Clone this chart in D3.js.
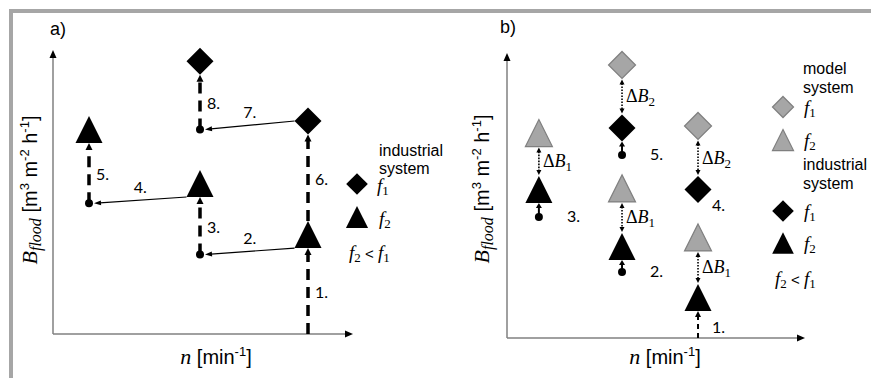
<!DOCTYPE html>
<html><head><meta charset="utf-8">
<script src="https://cdn.jsdelivr.net/npm/d3@7"></script>
<style>body{margin:0;background:#fff}svg{display:block}</style>
</head><body>
<svg id="c" width="871" height="378"></svg>
<script>
// ================= DATA (n and B_flood in arbitrary relative units, 0-100) =================
const panelLabels = ["a)", "b)"];
const xLabelParts = ["n", " [min", "-1", "]"];
const yLabelParts = ["B", "flood", " [m", "3", " m", "-2", " h", "-1", "]"];

// panel a) industrial system
const aF1 = [{n: 49, b: 96}, {n: 85, b: 75}];                 // diamonds
const aF2 = [{n: 12, b: 72}, {n: 49, b: 53}, {n: 85, b: 35}]; // triangles
const aDots = [{n: 12, b: 46}, {n: 49, b: 72}, {n: 49, b: 28}];
const aSteps = [
  {label: "1.", kind: "dash",  n0: 85, b0: 0,  s0: "axis", n1: 85, b1: 35, s1: "f2"},
  {label: "2.", kind: "solid", n0: 85, b0: 35, s0: "f2",   n1: 49, b1: 28, s1: "dot"},
  {label: "3.", kind: "dash",  n0: 49, b0: 28, s0: "dot",  n1: 49, b1: 53, s1: "f2"},
  {label: "4.", kind: "solid", n0: 49, b0: 53, s0: "f2",   n1: 12, b1: 46, s1: "dot"},
  {label: "5.", kind: "dash",  n0: 12, b0: 46, s0: "dot",  n1: 12, b1: 72, s1: "f2"},
  {label: "6.", kind: "dash",  n0: 85, b0: 35, s0: "f2",   n1: 85, b1: 75, s1: "f1"},
  {label: "7.", kind: "solid", n0: 85, b0: 75, s0: "f1",   n1: 49, b1: 72, s1: "dot"},
  {label: "8.", kind: "dash",  n0: 49, b0: 72, s0: "dot",  n1: 49, b1: 96, s1: "f1"}
];
const aLegendTitle = ["industrial", "system"];

// panel b) model vs industrial system
const bModelF1 = [{n: 38.6, b: 95.8}, {n: 64.1, b: 74.4}];
const bModelF2 = [{n: 10.7, b: 71.9}, {n: 38.6, b: 52.5}, {n: 64.1, b: 35.3}];
const bIndF1 = [{n: 38.6, b: 73.7}, {n: 64.1, b: 52.1}];
const bIndF2 = [{n: 10.7, b: 52.1}, {n: 38.6, b: 32.1}, {n: 64.1, b: 14.2}];
const bDots = [{n: 10.7, b: 42.5}, {n: 38.6, b: 64.2}, {n: 38.6, b: 23.2}];
const bDeltas = [
  {n: 10.7, hi: 71.9, hiS: "f2", lo: 52.1, loS: "f2", sub: "1"},
  {n: 38.6, hi: 95.8, hiS: "f1", lo: 73.7, loS: "f1", sub: "2"},
  {n: 38.6, hi: 52.5, hiS: "f2", lo: 32.1, loS: "f2", sub: "1"},
  {n: 64.1, hi: 74.4, hiS: "f1", lo: 52.1, loS: "f1", sub: "2"},
  {n: 64.1, hi: 35.3, hiS: "f2", lo: 14.2, loS: "f2", sub: "1"}
];
const bSteps = [
  {label: "1.", kind: "dash",  n: 64.1, b0: 0,    s0: "axis", b1: 14.2, s1: "f2"},
  {label: "2.", kind: "short", n: 38.6, b0: 23.2, s0: "dot",  b1: 32.1, s1: "f2"},
  {label: "3.", kind: "short", n: 10.7, b0: 42.5, s0: "dot",  b1: 52.1, s1: "f2"},
  {label: "4.", kind: "none",  n: 64.1, b0: 52.1, s0: "f1",   b1: 52.1, s1: "f1"},
  {label: "5.", kind: "short", n: 38.6, b0: 64.2, s0: "dot",  b1: 73.7, s1: "f1"}
];
const bLegendModel = ["model", "system"];
const bLegendInd = ["industrial", "system"];

// ================= DRAWING =================
const svg = d3.select("#c");
const GRAY = "#a6a6a6", GRAY_STROKE = "#7f7f7f", AXIS = "#808080";
const SANS = "'Liberation Sans', Arial, sans-serif";
const SERIF = "'Liberation Serif', 'DejaVu Serif', serif";
const LATO = "Lato, 'Open Sans', sans-serif";

// outer frame
svg.append("rect").attr("x", 11).attr("y", 11).attr("width", 900).attr("height", 420)
  .attr("fill", "none").attr("stroke", "#a6a6a6").attr("stroke-width", 4);

const DR = 13.5, TW = 27, TH = 27, DOTR = 4;
const diamondPath = r => `M0,${-r}L${r},0L0,${r}L${-r},0Z`;
const triPath = (w, h) => `M0,${-h / 2}L${w / 2},${h / 2}L${-w / 2},${h / 2}Z`;

function arrowHead(g, x, y, ang, len, w, fill) {
  const c = Math.cos(ang), s = Math.sin(ang);
  const bx = x - len * c, by = y - len * s;
  const px = -s * w / 2, py = c * w / 2;
  g.append("path").attr("d", `M${x},${y}L${bx + px},${by + py}L${bx - px},${by - py}Z`).attr("fill", fill || "#000");
}

function axes(g, xs, ys) {
  const ox = xs(0), oy = ys(0);
  g.append("line").attr("x1", ox).attr("y1", oy).attr("x2", xs(100) - 5).attr("y2", oy)
    .attr("stroke", AXIS).attr("stroke-width", 1.5);
  g.append("line").attr("x1", ox).attr("y1", oy).attr("x2", ox).attr("y2", ys(100) + 5)
    .attr("stroke", AXIS).attr("stroke-width", 1.5);
  arrowHead(g, xs(100), oy, 0, 8, 7);
  arrowHead(g, ox, ys(100), -Math.PI / 2, 8, 7);
}

function xLabel(g, cx, y) {
  const t = g.append("text").attr("x", cx).attr("y", y).attr("text-anchor", "middle");
  t.append("tspan").attr("font-family", SERIF).attr("font-style", "italic").attr("font-size", 22).text(xLabelParts[0]);
  t.append("tspan").attr("font-family", SANS).attr("font-size", 20).text(xLabelParts[1]);
  t.append("tspan").attr("font-family", SANS).attr("font-size", 13).attr("dy", -8).text(xLabelParts[2]);
  t.append("tspan").attr("font-family", SANS).attr("font-size", 20).attr("dy", 8).text(xLabelParts[3]);
}

function yLabel(g, x, cy) {
  const t = g.append("text").attr("transform", `translate(${x},${cy}) rotate(-90)`).attr("text-anchor", "middle");
  t.append("tspan").attr("font-family", SERIF).attr("font-style", "italic").attr("font-size", 22).text(yLabelParts[0]);
  t.append("tspan").attr("font-family", SERIF).attr("font-style", "italic").attr("font-size", 16).attr("dy", 4).text(yLabelParts[1]);
  t.append("tspan").attr("font-family", SANS).attr("font-size", 20).attr("dy", -4).text(yLabelParts[2]);
  t.append("tspan").attr("font-family", SANS).attr("font-size", 13).attr("dy", -8).text(yLabelParts[3]);
  t.append("tspan").attr("font-family", SANS).attr("font-size", 20).attr("dy", 8).text(yLabelParts[4]);
  t.append("tspan").attr("font-family", SANS).attr("font-size", 13).attr("dy", -8).text(yLabelParts[5]);
  t.append("tspan").attr("font-family", SANS).attr("font-size", 20).attr("dy", 8).text(yLabelParts[6]);
  t.append("tspan").attr("font-family", SANS).attr("font-size", 13).attr("dy", -8).text(yLabelParts[7]);
  t.append("tspan").attr("font-family", SANS).attr("font-size", 20).attr("dy", 8).text(yLabelParts[8]);
}

function fLabel(g, x, y, sub) {
  const t = g.append("text").attr("x", x).attr("y", y).attr("font-family", SERIF);
  t.append("tspan").attr("font-style", "italic").attr("font-size", 19).text("f");
  t.append("tspan").attr("font-size", 13).attr("dy", 3).text(sub);
}
function fIneq(g, x, y) {
  const t = g.append("text").attr("x", x).attr("y", y).attr("font-family", SERIF);
  t.append("tspan").attr("font-style", "italic").attr("font-size", 19).text("f");
  t.append("tspan").attr("font-size", 13).attr("dy", 3).text("2");
  t.append("tspan").attr("font-size", 15).attr("dy", -3).attr("font-family", SANS).text(" < ");
  t.append("tspan").attr("font-style", "italic").attr("font-size", 19).text("f");
  t.append("tspan").attr("font-size", 13).attr("dy", 3).text("1");
}

function marker(g, x, y, shape, fill, stroke, scale) {
  const s = scale || 1;
  g.append("path").attr("transform", `translate(${x},${y})`)
    .attr("d", shape === "f1" ? diamondPath(DR * s) : triPath(TW * s, TH * s))
    .attr("fill", fill).attr("stroke", stroke || "none").attr("stroke-width", stroke ? 1.2 : 0);
}

// vertical extents of shapes
const topOf = (y, s) => s === "f1" ? y - DR : s === "f2" ? y - TH / 2 : y;
const botOf = (y, s) => s === "f1" ? y + DR : s === "f2" ? y + TH / 2 : y;

// ---------- Panel a ----------
{
  const g = svg.append("g");
  const xs = d3.scaleLinear().domain([0, 100]).range([53, 353]);
  const ys = d3.scaleLinear().domain([0, 100]).range([334, 50]);
  axes(g, xs, ys);
  g.append("text").attr("x", 50).attr("y", 35).attr("font-family", SANS).attr("font-size", 18).text(panelLabels[0]);
  xLabel(g, 216, 364);
  yLabel(g, 37, 190);

  aSteps.forEach(st => {
    const x0 = xs(st.n0), y0 = ys(st.b0), x1 = xs(st.n1), y1 = ys(st.b1);
    if (st.kind === "dash") {
      const ys0 = topOf(y0, st.s0), ye = botOf(y1, st.s1);
      g.append("line").attr("x1", x0).attr("y1", ys0).attr("x2", x1).attr("y2", ye + 6)
        .attr("stroke", "#000").attr("stroke-width", 3.5).attr("stroke-dasharray", "11,7");
      arrowHead(g, x1, ye, -Math.PI / 2, 7, 7);
      g.append("text").attr("x", x0 + 7).attr("y", (ys0 + ye) / 2 + 7)
        .attr("font-family", LATO).attr("font-size", 16).text(st.label);
    } else {
      let sx, sy;
      if (st.s0 === "f2") { sx = x0 - TW / 2; sy = y0 + TH / 2; } else { sx = x0 - DR; sy = y0; }
      const ex = x1 + DOTR + 1, ey = y1;
      const ang = Math.atan2(ey - sy, ex - sx);
      g.append("line").attr("x1", sx).attr("y1", sy).attr("x2", ex - 6 * Math.cos(ang)).attr("y2", ey - 6 * Math.sin(ang))
        .attr("stroke", "#000").attr("stroke-width", 1.2);
      arrowHead(g, ex, ey, ang, 7, 5);
      g.append("text").attr("x", (sx + ex) / 2).attr("y", (sy + ey) / 2 - 7).attr("text-anchor", "middle")
        .attr("font-family", LATO).attr("font-size", 16).text(st.label);
    }
  });
  aDots.forEach(d => g.append("circle").attr("cx", xs(d.n)).attr("cy", ys(d.b)).attr("r", DOTR).attr("fill", "#000"));
  aF1.forEach(d => marker(g, xs(d.n), ys(d.b), "f1", "#000"));
  aF2.forEach(d => marker(g, xs(d.n), ys(d.b), "f2", "#000"));

  // legend
  aLegendTitle.forEach((t, i) => g.append("text").attr("x", 379).attr("y", 156 + i * 18)
    .attr("font-family", SANS).attr("font-size", 16).text(t));
  marker(g, 357, 184, "f1", "#000", null, 0.8);
  fLabel(g, 377, 192, "1");
  marker(g, 357, 217, "f2", "#000", null, 0.82);
  fLabel(g, 379, 225, "2");
  fIneq(g, 349, 259);
}

// ---------- Panel b ----------
{
  const g = svg.append("g");
  const xs = d3.scaleLinear().domain([0, 100]).range([507, 805]);
  const ys = d3.scaleLinear().domain([0, 100]).range([338, 53]);
  axes(g, xs, ys);
  g.append("text").attr("x", 500).attr("y", 33).attr("font-family", SANS).attr("font-size", 18).text(panelLabels[1]);
  xLabel(g, 665, 364);
  yLabel(g, 489, 189);

  // delta arrows
  bDeltas.forEach(d => {
    const x = xs(d.n);
    const yt = botOf(ys(d.hi), d.hiS) + 1, yb = topOf(ys(d.lo), d.loS) - 1;
    g.append("line").attr("x1", x).attr("y1", yt + 4).attr("x2", x).attr("y2", yb - 4)
      .attr("stroke", "#000").attr("stroke-width", 1.6).attr("stroke-dasharray", "1.6,1.4");
    arrowHead(g, x, yt, -Math.PI / 2, 5, 5);
    arrowHead(g, x, yb, Math.PI / 2, 5, 5);
    const t = g.append("text").attr("x", x + 4).attr("y", (yt + yb) / 2 + 6).attr("font-family", SERIF);
    t.append("tspan").attr("font-size", 18).text("Δ");
    t.append("tspan").attr("font-size", 18).attr("font-style", "italic").text("B");
    t.append("tspan").attr("font-size", 13).attr("dy", 4).text(d.sub);
  });

  // steps
  bSteps.forEach(st => {
    const x = xs(st.n), y0 = ys(st.b0), y1 = ys(st.b1);
    if (st.kind === "dash") {
      const ye = botOf(y1, st.s1);
      g.append("line").attr("x1", x).attr("y1", y0).attr("x2", x).attr("y2", ye + 5)
        .attr("stroke", "#000").attr("stroke-width", 2).attr("stroke-dasharray", "5,4");
      arrowHead(g, x, ye, -Math.PI / 2, 6, 6);
      g.append("text").attr("x", x + 14).attr("y", (y0 + ye) / 2 + 8)
        .attr("font-family", LATO).attr("font-size", 16).text(st.label);
    } else if (st.kind === "short") {
      const ye = botOf(y1, st.s1);
      g.append("line").attr("x1", x).attr("y1", y0).attr("x2", x).attr("y2", ye + 4)
        .attr("stroke", "#000").attr("stroke-width", 2);
      arrowHead(g, x, ye, -Math.PI / 2, 5, 6);
      g.append("text").attr("x", x + 28).attr("y", y0 + 5)
        .attr("font-family", LATO).attr("font-size", 16).text(st.label);
    } else {
      g.append("text").attr("x", x + 14).attr("y", y0 + 21)
        .attr("font-family", LATO).attr("font-size", 16).text(st.label);
    }
  });
  bDots.forEach(d => g.append("circle").attr("cx", xs(d.n)).attr("cy", ys(d.b)).attr("r", DOTR).attr("fill", "#000"));
  bModelF1.forEach(d => marker(g, xs(d.n), ys(d.b), "f1", GRAY, GRAY_STROKE));
  bModelF2.forEach(d => marker(g, xs(d.n), ys(d.b), "f2", GRAY, GRAY_STROKE));
  bIndF1.forEach(d => marker(g, xs(d.n), ys(d.b), "f1", "#000"));
  bIndF2.forEach(d => marker(g, xs(d.n), ys(d.b), "f2", "#000"));

  // legend
  bLegendModel.forEach((t, i) => g.append("text").attr("x", 803).attr("y", 74 + i * 19)
    .attr("font-family", SANS).attr("font-size", 16).text(t));
  marker(g, 783, 107, "f1", GRAY, GRAY_STROKE, 0.78);
  fLabel(g, 804, 114, "1");
  marker(g, 783, 140, "f2", GRAY, GRAY_STROKE, 0.78);
  fLabel(g, 804, 147, "2");
  bLegendInd.forEach((t, i) => g.append("text").attr("x", 803).attr("y", 170 + i * 19)
    .attr("font-family", SANS).attr("font-size", 16).text(t));
  marker(g, 783, 211, "f1", "#000", null, 0.8);
  fLabel(g, 804, 218, "1");
  marker(g, 783, 243, "f2", "#000", null, 0.8);
  fLabel(g, 804, 250, "2");
  fIneq(g, 775, 285);
}
</script>
</body></html>
